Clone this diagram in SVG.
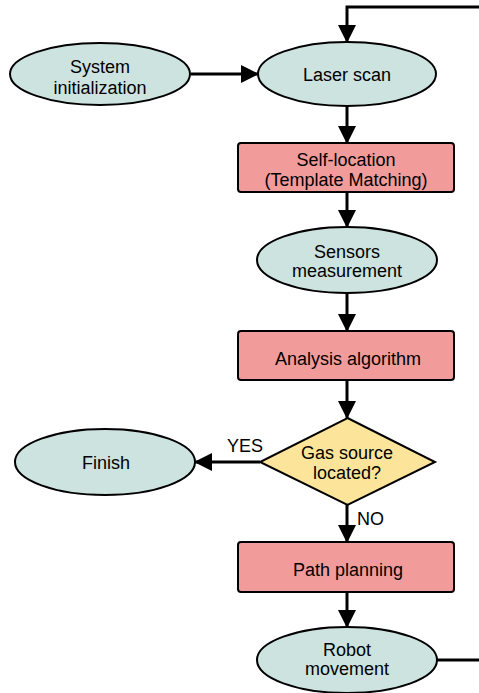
<svg xmlns="http://www.w3.org/2000/svg" width="479" height="693" viewBox="0 0 479 693">
  <style>
    .term { fill: #cde3df; stroke: #000; stroke-width: 2; }
    .proc { fill: #f19c9b; stroke: #000; stroke-width: 2; }
    .dec { fill: #fde49b; stroke: #000; stroke-width: 2; }
    .lbl { font-family: "Liberation Sans", Arial, sans-serif; font-size: 18px; fill: #000; text-anchor: middle; }
    .flow { fill: none; stroke: #000; stroke-width: 3; }
  </style>
  <defs>
    <marker id="arrow" markerUnits="userSpaceOnUse" markerWidth="18" markerHeight="18" viewBox="0 0 18 18" refX="17" refY="9" orient="auto">
      <path d="M0,0 L18,9 L0,18 Z" fill="#000"/>
    </marker>
  </defs>

  <g id="connectors">
    <path class="flow" d="M191,74 H258" marker-end="url(#arrow)"/>
    <path class="flow" d="M437,660 H483 V7 H347 V42" marker-end="url(#arrow)"/>
    <path class="flow" d="M347,106 V143" marker-end="url(#arrow)"/>
    <path class="flow" d="M347,192 V227" marker-end="url(#arrow)"/>
    <path class="flow" d="M347,293 V331" marker-end="url(#arrow)"/>
    <path class="flow" d="M347,380 V418" marker-end="url(#arrow)"/>
    <path class="flow" d="M260,462 H195" marker-end="url(#arrow)"/>
    <path class="flow" d="M347,505 V542" marker-end="url(#arrow)"/>
    <path class="flow" d="M347,592 V627" marker-end="url(#arrow)"/>
    <text class="lbl" x="245" y="452" font-size="17">YES</text>
    <text class="lbl" x="370.5" y="525" font-size="17">NO</text>
  </g>

  <g id="system-init">
    <ellipse class="term" cx="100" cy="74" rx="90" ry="31"/>
    <text class="lbl" x="100" y="73">System</text>
    <text class="lbl" x="100" y="94">initialization</text>
  </g>

  <g id="laser-scan">
    <ellipse class="term" cx="347" cy="74" rx="89" ry="32"/>
    <text class="lbl" x="347" y="81">Laser scan</text>
  </g>

  <g id="self-location">
    <rect class="proc" x="238" y="143" width="216" height="49" rx="3"/>
    <text class="lbl" x="346" y="166">Self-location</text>
    <text class="lbl" x="346" y="186">(Template Matching)</text>
  </g>

  <g id="sensors">
    <ellipse class="term" cx="347" cy="260" rx="90" ry="33"/>
    <text class="lbl" x="347" y="258">Sensors</text>
    <text class="lbl" x="347" y="277">measurement</text>
  </g>

  <g id="analysis">
    <rect class="proc" x="238" y="331" width="216" height="49" rx="3"/>
    <text class="lbl" x="348" y="365">Analysis algorithm</text>
  </g>

  <g id="decision">
    <polygon class="dec" points="347.5,418 435,462 347.5,505 260,462"/>
    <text class="lbl" x="347" y="459">Gas source</text>
    <text class="lbl" x="347" y="479">located?</text>
  </g>

  <g id="finish">
    <ellipse class="term" cx="105" cy="462" rx="90" ry="33"/>
    <text class="lbl" x="106" y="469">Finish</text>
  </g>

  <g id="path-planning">
    <rect class="proc" x="238" y="542" width="216" height="50" rx="3"/>
    <text class="lbl" x="348" y="576">Path planning</text>
  </g>

  <g id="robot-movement">
    <ellipse class="term" cx="347" cy="660" rx="90" ry="33"/>
    <text class="lbl" x="347" y="656">Robot</text>
    <text class="lbl" x="347" y="675">movement</text>
  </g>
</svg>
